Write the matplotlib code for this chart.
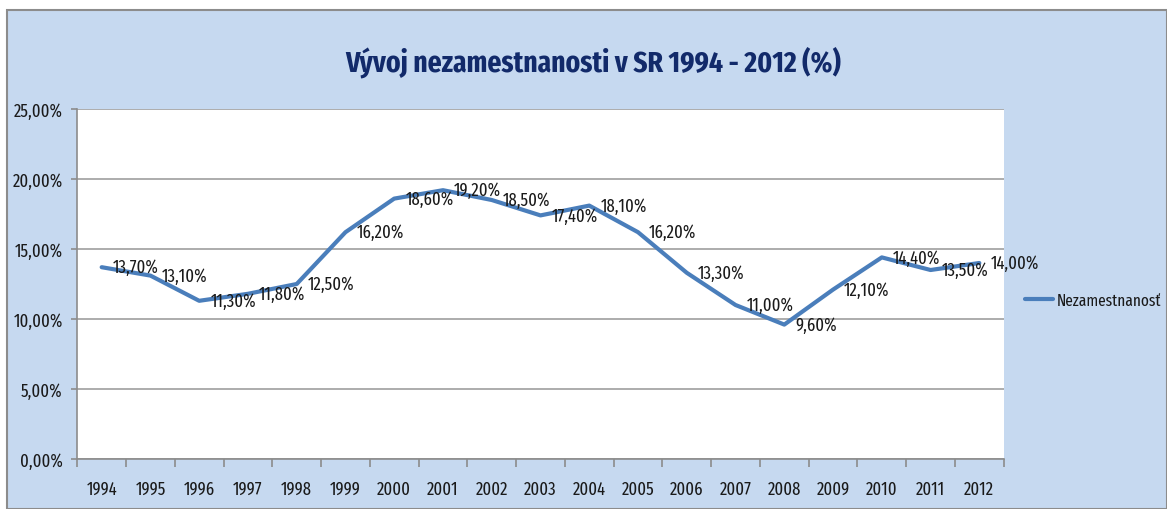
import matplotlib
matplotlib.use("Agg")
import matplotlib.pyplot as plt
from matplotlib.patches import Rectangle
from matplotlib.ticker import FuncFormatter, FixedLocator

plt.rcParams['font.family'] = ['Fira Sans Extra Condensed', 'Liberation Sans Narrow', 'DejaVu Sans']

# data
years = ['1994', '1995', '1996', '1997', '1998', '1999', '2000', '2001', '2002', '2003',
         '2004', '2005', '2006', '2007', '2008', '2009', '2010', '2011', '2012']
unemployment = [13.7, 13.1, 11.3, 11.8, 12.5, 16.2, 18.6, 19.2, 18.5, 17.4,
                18.1, 16.2, 13.3, 11.0, 9.6, 12.1, 14.4, 13.5, 14.0]
series_name = 'Nezamestnanosť'
title = 'Vývoj nezamestnanosti v SR 1994 - 2012 (%)'

W, H = 1167, 510
bg = '#C6D9F0'
line_col = '#4A7EBB'
grid_col = '#A6A6A6'
txt_col = '#1A1A1A'
fs = 13

fig = plt.figure(figsize=(W / 100, H / 100), dpi=100, facecolor='white')

# chart area background with border
fig.patches.append(Rectangle((7 / W, 0), 1 - 7 / W, (H - 11) / H, transform=fig.transFigure,
                             facecolor=bg, edgecolor='#8C8C8C', linewidth=1.5, zorder=-1))

ax = fig.add_axes([77.3 / W, 50 / H, (1003.7 - 77.3) / W, 350 / H])
ax.set_facecolor('white')

x = list(range(len(years)))
ax.plot(x, unemployment, color=line_col, linewidth=3, solid_joinstyle='round',
        solid_capstyle='round', label=series_name, zorder=3)

# data labels to the right of points
for xi, v in zip(x, unemployment):
    ax.annotate(f"{v:.2f}%".replace('.', ','), (xi, v), xytext=(8, 0), textcoords='offset points',
                ha='left', va='center', fontsize=fs, color=txt_col, zorder=4, annotation_clip=False)

ax.set_xlim(-0.5, len(years) - 0.5)
ax.set_ylim(0, 25)
ax.set_yticks([0, 5, 10, 15, 20, 25])
ax.yaxis.set_major_formatter(FuncFormatter(lambda v, p: f"{v:.2f}%".replace('.', ',')))
ax.yaxis.grid(True, color=grid_col, linewidth=1.3)
ax.set_axisbelow(True)

ax.set_xticks(x)
ax.set_xticklabels(years)
ax.xaxis.set_minor_locator(FixedLocator([i - 0.5 for i in range(len(years) + 1)]))
ax.tick_params(axis='x', which='major', length=0, pad=15, labelsize=fs, labelcolor=txt_col)
ax.tick_params(axis='x', which='minor', length=6, width=1.2, color='#8C8C8C')
ax.tick_params(axis='y', length=4, width=1.2, color='#8C8C8C', pad=6.5, labelsize=fs, labelcolor=txt_col)

for s in ['top', 'right']:
    ax.spines[s].set_visible(False)
for s in ['left', 'bottom']:
    ax.spines[s].set_color('#8C8C8C')
    ax.spines[s].set_linewidth(1.2)

fig.text(593 / W, 1 - 62 / H, title, ha='center', va='center', fontsize=21.5,
         fontweight='bold', color='#122A6A')

fig.legend(loc='center left', bbox_to_anchor=(1025 / W, 1 - 301 / H), frameon=False,
           fontsize=12, handlelength=1.7, handletextpad=0.2, borderpad=0, borderaxespad=0,
           labelcolor=txt_col)

fig.savefig('out.png', dpi=100, facecolor=fig.get_facecolor())
